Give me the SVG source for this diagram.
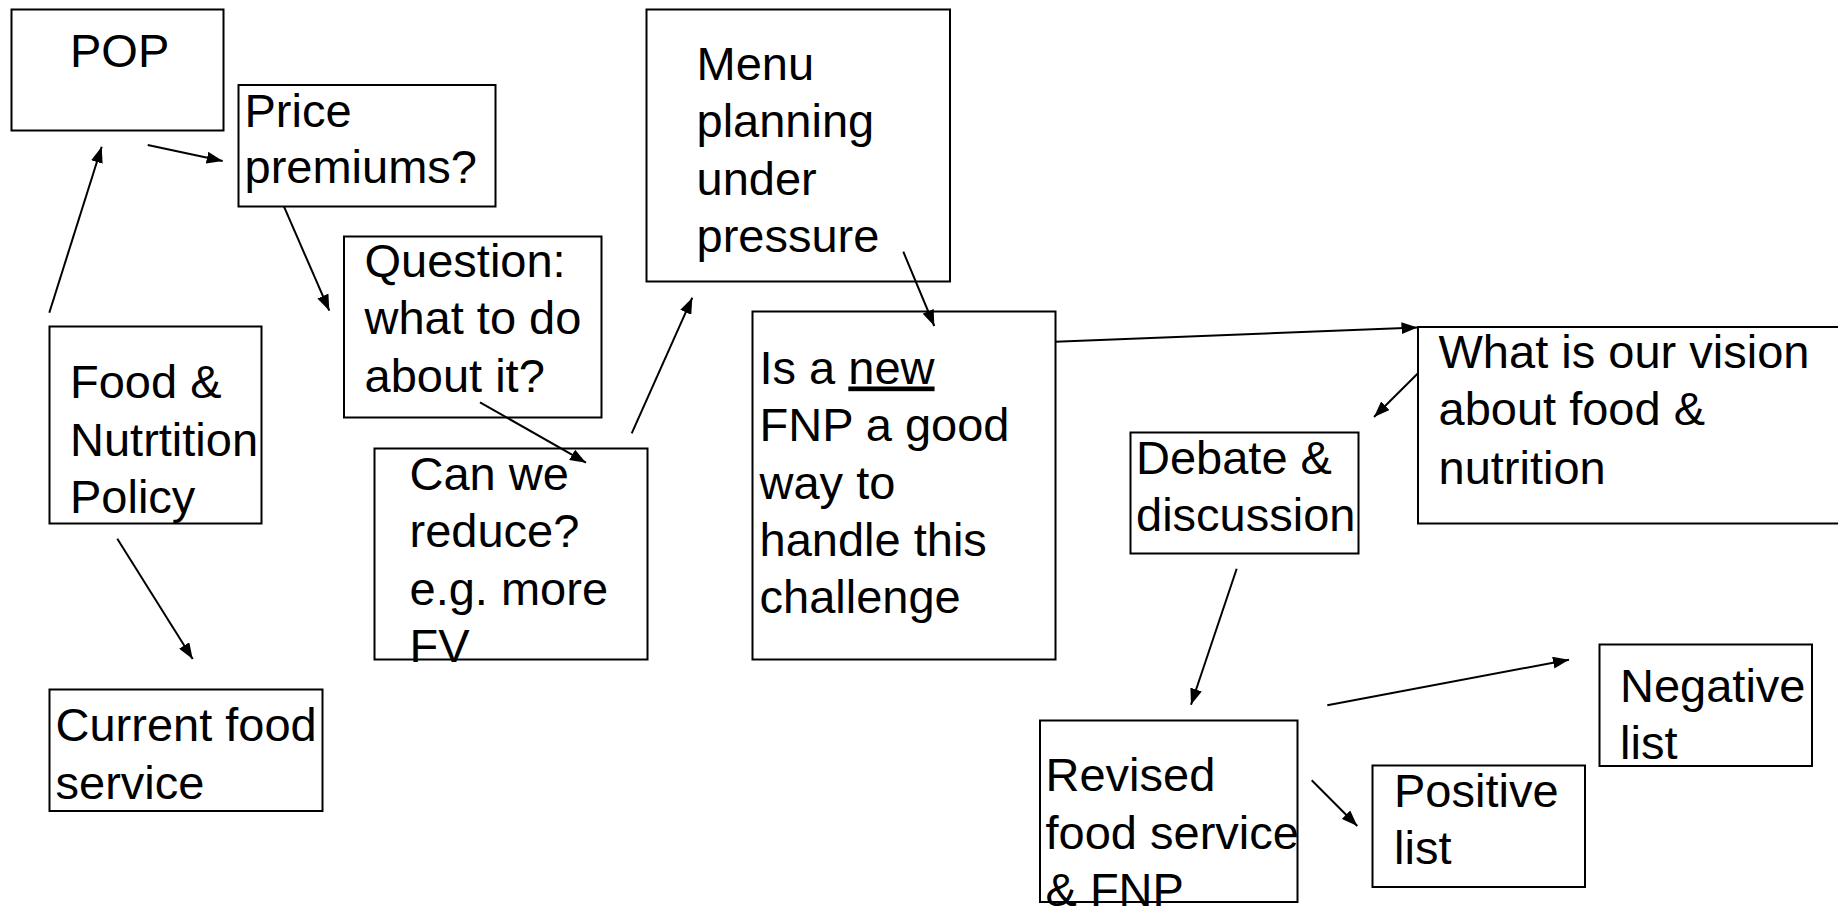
<svg xmlns="http://www.w3.org/2000/svg" width="1838" height="907" viewBox="0 0 1838 907">
<style>
.box{fill:#fff;stroke:#000;stroke-width:2}
.t{font-family:"Liberation Sans",Arial,sans-serif;font-size:47px;fill:#000}
.c{stroke:#000;stroke-width:2;fill:none;marker-end:url(#ah)}
</style>
<defs>
<marker id="ah" viewBox="0 0 16 12" refX="16" refY="6" markerWidth="16" markerHeight="12" markerUnits="userSpaceOnUse" orient="auto"><path d="M0,0 L16,6 L0,12 z" fill="#000"/></marker>
<clipPath id="clipCan"><rect x="370" y="440" width="290" height="223"/></clipPath>
</defs>
<rect width="1838" height="907" fill="#fff"/>
<g id="pop"><rect class="box" x="11.5" y="9.5" width="212" height="121"/><text class="t" x="70" y="66.5">POP</text></g>
<g id="price"><rect class="box" x="238.5" y="85" width="257" height="121.5"/><text class="t"><tspan x="244.5" y="126.5">Price</tspan><tspan x="244.5" y="182.5">premiums?</tspan></text></g>
<g id="question"><rect class="box" x="344" y="236.5" width="257.5" height="181"/><text class="t"><tspan x="364.5" y="276.5">Question:</tspan><tspan x="364.5" y="334">what to do</tspan><tspan x="364.5" y="391.5">about it?</tspan></text></g>
<g id="food"><rect class="box" x="49.5" y="326.5" width="212" height="197"/><text class="t"><tspan x="70" y="398">Food &amp;</tspan><tspan x="70" y="455.5">Nutrtition</tspan><tspan x="70" y="513">Policy</tspan></text></g>
<g id="current"><rect class="box" x="49.5" y="689.5" width="273" height="121.5"/><text class="t"><tspan x="55.5" y="740.5">Current food</tspan><tspan x="55.5" y="798.5">service</tspan></text></g>
<g id="canwe"><rect class="box" x="374.5" y="448.5" width="273" height="211"/><text class="t" clip-path="url(#clipCan)"><tspan x="409.5" y="489.5">Can we</tspan><tspan x="409.5" y="547">reduce?</tspan><tspan x="409.5" y="604.5">e.g. more</tspan><tspan x="409.5" y="662">FV</tspan></text></g>
<g id="menu"><rect class="box" x="646.5" y="9.5" width="303.5" height="272"/><text class="t"><tspan x="696.5" y="80">Menu</tspan><tspan x="696.5" y="137">planning</tspan><tspan x="696.5" y="195">under</tspan><tspan x="696.5" y="252">pressure</tspan></text></g>
<g id="isnew"><rect class="box" x="752.5" y="311.5" width="303" height="348"/><text class="t"><tspan x="759.5" y="383.5">Is a <tspan text-decoration="underline">new</tspan></tspan><tspan x="759.5" y="440.5">FNP a good</tspan><tspan x="759.5" y="498.5">way to</tspan><tspan x="759.5" y="556">handle this</tspan><tspan x="759.5" y="613">challenge</tspan></text></g>
<g id="vision"><rect class="box" x="1418" y="327" width="440" height="196.5"/><text class="t"><tspan x="1438.5" y="367.5">What is our vision</tspan><tspan x="1438.5" y="425">about food &amp;</tspan><tspan x="1438.5" y="483.5">nutrition</tspan></text></g>
<g id="debate"><rect class="box" x="1130.5" y="432.5" width="228" height="121"/><text class="t"><tspan x="1136" y="473.5">Debate &amp;</tspan><tspan x="1136" y="531">discussion</tspan></text></g>
<g id="revised"><rect class="box" x="1040" y="720.5" width="257.5" height="181.5"/><text class="t"><tspan x="1045.5" y="791">Revised</tspan><tspan x="1045.5" y="848.5">food service</tspan><tspan x="1045.5" y="906">&amp; FNP</tspan></text></g>
<g id="positive"><rect class="box" x="1372.5" y="765.5" width="212.5" height="121.5"/><text class="t"><tspan x="1394" y="807">Positive</tspan><tspan x="1394" y="863.5">list</tspan></text></g>
<g id="negative"><rect class="box" x="1599.5" y="644.5" width="212.5" height="121.5"/><text class="t"><tspan x="1620" y="702">Negative</tspan><tspan x="1620" y="758.5">list</tspan></text></g>
<g id="connectors">
<line class="c" x1="49.3" y1="312.7" x2="101.7" y2="146.7"/>
<line class="c" x1="147.7" y1="145" x2="222.7" y2="161"/>
<line class="c" x1="284" y1="206.7" x2="329.3" y2="310.7"/>
<line class="c" x1="480" y1="402.3" x2="586" y2="462.7"/>
<line class="c" x1="631.7" y1="433.3" x2="692.3" y2="297.7"/>
<line class="c" x1="903.3" y1="251.7" x2="934.3" y2="326"/>
<line class="c" x1="1055.3" y1="341.7" x2="1417.5" y2="327.5"/>
<line class="c" x1="1418" y1="373.3" x2="1374" y2="417"/>
<line class="c" x1="1236.7" y1="568.7" x2="1191" y2="704.7"/>
<line class="c" x1="1327.3" y1="705.3" x2="1569" y2="659.7"/>
<line class="c" x1="1311.7" y1="780.3" x2="1357.3" y2="826"/>
<line class="c" x1="117.3" y1="538.7" x2="192.7" y2="659"/>
</g>
</svg>
